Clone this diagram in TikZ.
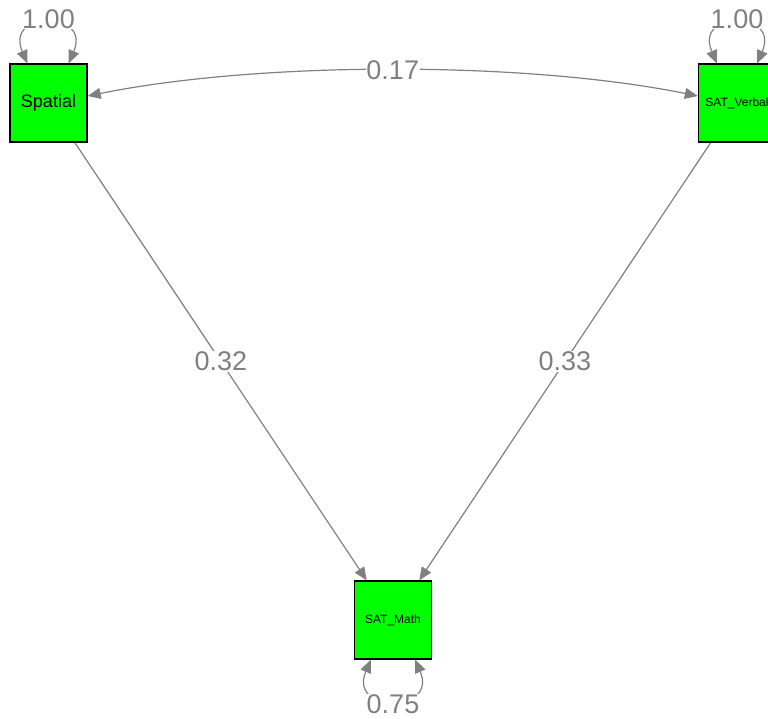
\documentclass[tikz,border=0pt]{standalone}
\usepackage{fontspec}
\setmainfont{Liberation Sans}
\usetikzlibrary{arrows.meta}
\definecolor{pathgray}{HTML}{808080}
\definecolor{boxgreen}{HTML}{00FF00}
\begin{document}
\begin{tikzpicture}[x=1pt,y=-1pt,
  manifest/.style={draw=black,line width=1.4pt,fill=boxgreen,minimum width=77pt,minimum height=78pt,inner sep=0pt,text=black},
  path/.style={draw=pathgray,line width=1.2pt,-{Triangle[length=13pt,width=11pt]}},
  twoway/.style={draw=pathgray,line width=1.2pt,{Triangle[length=13pt,width=11pt]}-{Triangle[length=13pt,width=11pt]}},
  est/.style={text=pathgray,fill=white,inner sep=0.5pt,font=\fontsize{27}{27}\selectfont}]
\useasboundingbox (0,0) rectangle (768,718);
% observed variables
\node[manifest,font=\fontsize{18}{18}\selectfont] (sp) at (48.5,103) {Spatial};
\node[manifest,font=\fontsize{12}{12}\selectfont] (sv) at (737,103) {SAT\_Verbal};
\node[manifest,font=\fontsize{12}{12}\selectfont] (sm) at (393,620) {SAT\_Math};
% regressions
\draw[path] (sp) -- node[est]{0.32} (sm);
\draw[path] (sv) -- node[est]{0.33} (sm);
% covariance
\draw[twoway] ([yshift=7pt]sp.east) .. controls +(173,-35) and +(-173,-35) .. node[est,pos=0.5]{0.17} ([yshift=7pt]sv.west);
% variances
\draw[twoway] ([xshift=18pt]sp.north west) .. controls +(-23,-54) and +(23,-54) .. ([xshift=-19pt]sp.north east);
\node[est] (vsp) at ([yshift=44pt]sp.north) {1.00};
\draw[twoway] ([xshift=19pt]sv.north west) .. controls +(-23,-54) and +(23,-54) .. ([xshift=-19pt]sv.north east);
\node[est] (vsv) at ([yshift=44pt]sv.north) {1.00};
\draw[twoway] ([xshift=17pt]sm.south west) .. controls +(-23,54) and +(23,54) .. ([xshift=-17pt]sm.south east);
\node[est] (vsm) at ([yshift=-44pt]sm.south) {0.75};
\end{tikzpicture}
\end{document}
